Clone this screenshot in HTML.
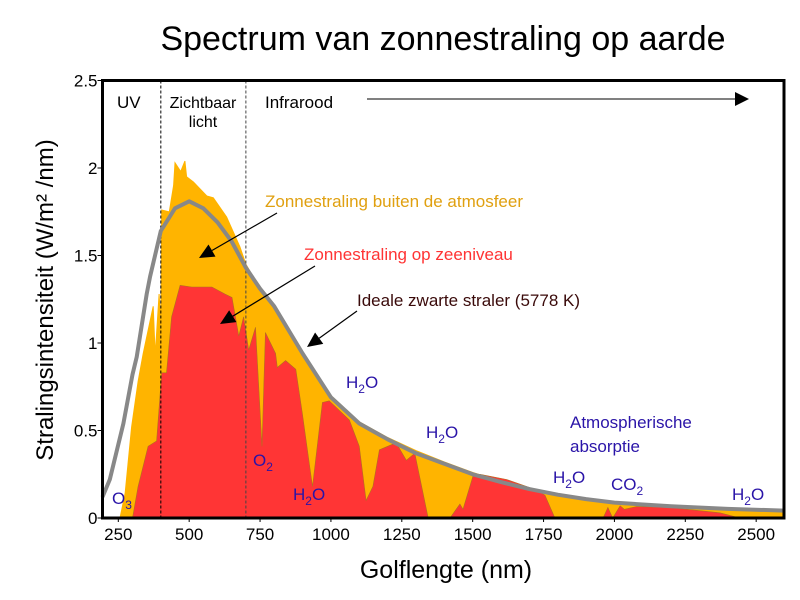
<!DOCTYPE html>
<html><head><meta charset="utf-8"><style>
body{margin:0;background:#fff;}
svg{display:block;font-family:"Liberation Sans",sans-serif;}
</style></head><body>
<svg id="chart" width="800" height="600" viewBox="0 0 800 600">
<rect x="0" y="0" width="800" height="600" fill="#fff"/>
<text x="443" y="50" font-size="34" text-anchor="middle">Spectrum van zonnestraling op aarde</text>
<g id="plot"></g>
<text x="446" y="578" font-size="25" text-anchor="middle">Golflengte (nm)</text>
<text transform="translate(53,300) rotate(-90)" font-size="24" text-anchor="middle">Stralingsintensiteit (W/m² /nm)</text>
</svg>
<script>
const blackNm=[194,220,250,268,300,315,350,362,400,450,500,550,600,650,700,750,800,900,1000,1100,1200,1300,1400,1500,1600,1700,1800,1900,2000,2200,2400,2600];
const blackVal=[0.12,0.22,0.42,0.54,0.82,0.92,1.28,1.38,1.64,1.77,1.81,1.77,1.69,1.58,1.43,1.31,1.21,0.94,0.69,0.54,0.45,0.37,0.31,0.25,0.205,0.165,0.133,0.108,0.088,0.067,0.052,0.042];
const outerNm=[194,256,274,297,320,338,373,380,394,400,403,430,445,450,470,485,491,515,562,585,632,679,700,750,800,900,1000,1100,1200,1300,1400,1500,1600,1700,1800,1900,2000,2200,2400,2600];
const outerVal=[0,0,0.14,0.52,0.78,0.94,1.21,0.93,1.28,1.1,1.76,1.75,1.9,2.03,1.98,2.04,1.95,1.92,1.84,1.83,1.72,1.55,1.45,1.31,1.21,0.95,0.7,0.55,0.46,0.385,0.32,0.26,0.21,0.17,0.138,0.112,0.092,0.07,0.055,0.045];
const seaNm=[194,300,320,355,385,403,420,438,468,509,580,626,651,675,692,710,734,757,769,805,811,840,876,899,935,970,994,1065,1100,1124,1148,1171,1230,1266,1296,1343,1420,1455,1466,1501,1526,1620,1726,1755,1790,1960,1977,1994,2020,2035,2078,2196,2372,2443,2600];
const seaVal=[0,0,0.18,0.41,0.44,0.83,0.83,1.15,1.33,1.32,1.32,1.28,1.26,1.04,1.15,0.96,1.09,0.41,1.06,0.94,0.86,0.9,0.85,0.6,0.18,0.66,0.67,0.56,0.41,0.1,0.18,0.39,0.43,0.33,0.37,0,0,0.08,0.05,0.24,0.25,0.22,0.16,0.13,0,0,0.06,0,0.07,0.05,0.065,0.06,0.03,0,0];
const xTicks=[250,500,750,1000,1250,1500,1750,2000,2250,2500];
const yTicks=[0,0.5,1,1.5,2,2.5];
const yTickLabels=["0","0.5","1","1.5","2","2.5"];

const X0=102.5,X1=784,Y0=518,Y1=80.5;
const xs=nm=>118.3+(nm-250)*0.2835;
const ys=v=>Y0-(v/2.5)*(Y0-Y1);
const NS="http://www.w3.org/2000/svg";
const plot=document.getElementById('plot');
function mk(tag,attrs,parent){const e=document.createElementNS(NS,tag);for(const k in attrs)e.setAttribute(k,attrs[k]);(parent||plot).appendChild(e);return e;}
function clamp(x){return Math.max(X0,Math.min(X1,x));}
function areaPath(nms,vals){let d='M'+clamp(xs(nms[0]))+','+Y0;for(let i=0;i<nms.length;i++)d+=' L'+clamp(xs(nms[i])).toFixed(1)+','+ys(vals[i]).toFixed(1);d+=' L'+clamp(xs(nms[nms.length-1]))+','+Y0+' Z';return d;}
function linePath(nms,vals){let d='';for(let i=0;i<nms.length;i++)d+=(i?' L':'M')+clamp(xs(nms[i])).toFixed(1)+','+ys(vals[i]).toFixed(1);return d;}

const outer=mk('path',{d:areaPath(outerNm,outerVal),fill:'#ffb400',stroke:'#ffb400','stroke-width':1});


const sea=mk('path',{d:areaPath(seaNm,seaVal),fill:'#ff3535',stroke:'#b07020','stroke-width':0.6});



const dash1=mk('line',{x1:xs(400),x2:xs(400),y1:Y1,y2:Y0,stroke:'#000','stroke-width':1,'stroke-dasharray':'3,2'});


const dash2=mk('line',{x1:xs(700),x2:xs(700),y1:Y1,y2:Y0,stroke:'#444','stroke-width':1,'stroke-dasharray':'3,2'});



const bb=mk('path',{d:linePath(blackNm,blackVal),fill:'none',stroke:'#888','stroke-width':4,'stroke-linejoin':'round'});



const frame=mk('rect',{x:X0,y:Y1,width:X1-X0,height:Y0-Y1,fill:'none',stroke:'#000','stroke-width':3});



xTicks.forEach(t=>{
  const l=mk('line',{x1:xs(t),x2:xs(t),y1:Y0,y2:Y0+4,stroke:'#000','stroke-width':1});
  
  
  const tx=mk('text',{x:xs(t),y:540,'font-size':17,'text-anchor':'middle'});
  tx.textContent=t;
  
  
});
yTicks.forEach((t,i)=>{
  const l=mk('line',{x1:X0-5,x2:X0,y1:ys(t),y2:ys(t),stroke:'#000','stroke-width':1});
  
  
  const tx=mk('text',{x:X0-5,y:ys(t)+6,'font-size':17,'text-anchor':'end'});
  tx.textContent=yTickLabels[i];
  
  
});

function label(x,y,txt,color,size,name,anchor){
  const t=mk('text',{x:x,y:y,'font-size':size,fill:color,'text-anchor':anchor||'start'});
  t.textContent=txt;
  
  
  return t;
}
label(117,108,'UV','#000',17,'uv-label');
label(203,108,'Zichtbaar','#000',16,'visible-label','middle');
label(203,127,'licht','#000',16,'visible-label-2','middle');
label(265,108,'Infrarood','#000',17,'infrared-label');
const ir=mk('line',{x1:367,y1:99,x2:738,y2:99,stroke:'#000','stroke-width':1});


const irh=mk('polygon',{points:'749,99 735,92 735,106',fill:'#000'});



label(265,207,'Zonnestraling buiten de atmosfeer','#e0a010',17,'label-outside-atmosphere');
label(304,260,'Zonnestraling op zeeniveau','#ff3333',17,'label-sea-level');
label(357,306,'Ideale zwarte straler (5778 K)','#3a0a0a',17,'label-blackbody');

function arrow(x1,y1,x2,y2,name){
  const a=Math.atan2(y2-y1,x2-x1),L=15,W=7;
  const bx=x2-L*Math.cos(a),by=y2-L*Math.sin(a);
  const l=mk('line',{x1:x1,y1:y1,x2:bx,y2:by,stroke:'#000','stroke-width':1.2});
  
  
  const p=mk('polygon',{points:`${x2},${y2} ${bx+W*Math.sin(a)},${by-W*Math.cos(a)} ${bx-W*Math.sin(a)},${by+W*Math.cos(a)}`,fill:'#000'});
  
  
}
arrow(277,213,199,258,'arrow-outside-atmosphere');
arrow(315,266,220,324,'arrow-sea-level');
arrow(357,311,307,347,'arrow-blackbody');

const blue='#2a14a8';
function mol(x,y,a,sub,b,name){
  const t=mk('text',{x:x,y:y,'font-size':17,fill:blue});
  
  
  t.appendChild(document.createTextNode(a));
  const s=document.createElementNS(NS,'tspan');s.setAttribute('font-size','12');s.setAttribute('dy','5');s.textContent=sub;t.appendChild(s);
  if(b){const s2=document.createElementNS(NS,'tspan');s2.setAttribute('dy','-5');s2.textContent=b;t.appendChild(s2);}
}
mol(112,504,'O','3','','label-o3');
mol(253,466,'O','2','','label-o2');
mol(293,500,'H','2','O','label-h2o-1');
mol(346,388,'H','2','O','label-h2o-2');
mol(426,438,'H','2','O','label-h2o-3');
mol(553,483,'H','2','O','label-h2o-4');
mol(611,490,'CO','2','','label-co2');
mol(732,500,'H','2','O','label-h2o-5');
label(570,428,'Atmospherische',blue,17,'label-atm-absorption');
label(570,452,'absorptie',blue,17,'label-atm-absorption-2');
</script>
</body></html>
